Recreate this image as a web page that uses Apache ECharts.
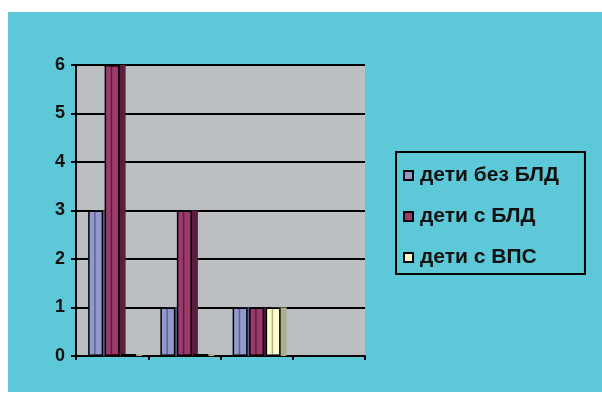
<!DOCTYPE html>
<html>
<head>
<meta charset="utf-8">
<script src="https://cdn.jsdelivr.net/npm/echarts@6/dist/echarts.min.js"></script>
<style>
  html, body { margin: 0; padding: 0; background: #fff; }
  #main { position: absolute; left: 8px; top: 12px; width: 594px; height: 380px; }
</style>
</head>
<body>
<div id="main"></div>
<script>
// categories (4th group is empty in the source)
const categories = ['1', '2', '3', '4'];
const seriesNames = ['дети без БЛД', 'дети с БЛД', 'дети с ВПС'];
const noBLD = [3, 1, 1, null];
const withBLD = [6, 3, 1, null];
const withVPS = [0, 0, 1, null];
const yTicks = [0, 1, 2, 3, 4, 5, 6];

const colors = ['#9399cc', '#9c3a6c', '#fdfbcc'];
const sides = ['#5d6392', '#5a1f3e', '#a9ae8c'];

const chart = echarts.init(document.getElementById('main'));

// flat bars with a dark offset shadow standing in for the 3d side face
const barStyle = (i) => ({
  color: colors[i], borderColor: '#000', borderWidth: 1.5,
  shadowColor: sides[i], shadowOffsetX: 6, shadowOffsetY: 0, shadowBlur: 0
});

chart.setOption({
  backgroundColor: '#5cc8d8',
  animation: false,
  textStyle: { fontFamily: 'Liberation Sans, Arial, sans-serif' },
  grid: {
    left: 68, top: 53, width: 289, height: 291,
    show: true, backgroundColor: '#bcbfc1', borderWidth: 0
  },
  legend: {
    orient: 'vertical',
    left: 388, top: 140,
    padding: [13, 26, 6, 7],
    borderColor: '#000', borderWidth: 2,
    itemWidth: 13, itemHeight: 9, itemGap: 20,
    icon: 'path://M0,0h10v10h-10z',
    itemStyle: { shadowBlur: 0, shadowOffsetX: 0, shadowColor: 'transparent' },
    textStyle: { fontSize: 21, fontWeight: 'bold', color: '#111', lineHeight: 20 },
    data: seriesNames
  },
  xAxis: {
    type: 'category',
    data: categories,
    axisLine: { lineStyle: { color: '#000', width: 2 } },
    axisTick: { show: true, length: 4, lineStyle: { color: '#000', width: 2 } },
    axisLabel: { show: false },
    splitLine: { show: false }
  },
  yAxis: {
    type: 'value',
    min: yTicks[0], max: yTicks[yTicks.length - 1], interval: 1,
    axisLine: { show: true, lineStyle: { color: '#000', width: 2 } },
    axisTick: { show: true, length: 5, lineStyle: { color: '#000', width: 2 } },
    axisLabel: { fontSize: 18, fontWeight: 'bold', color: '#111', margin: 11 },
    splitLine: { show: true, lineStyle: { color: '#000', width: 2 } }
  },
  series: [
    { name: seriesNames[0], type: 'bar', data: noBLD, barWidth: 15, barGap: '10%', itemStyle: barStyle(0) },
    { name: seriesNames[1], type: 'bar', data: withBLD, barWidth: 15, barGap: '10%', itemStyle: barStyle(1) },
    { name: seriesNames[2], type: 'bar', data: withVPS, barWidth: 15, barGap: '10%', barMinHeight: 2, itemStyle: barStyle(2) }
  ]
});
</script>
</body>
</html>
